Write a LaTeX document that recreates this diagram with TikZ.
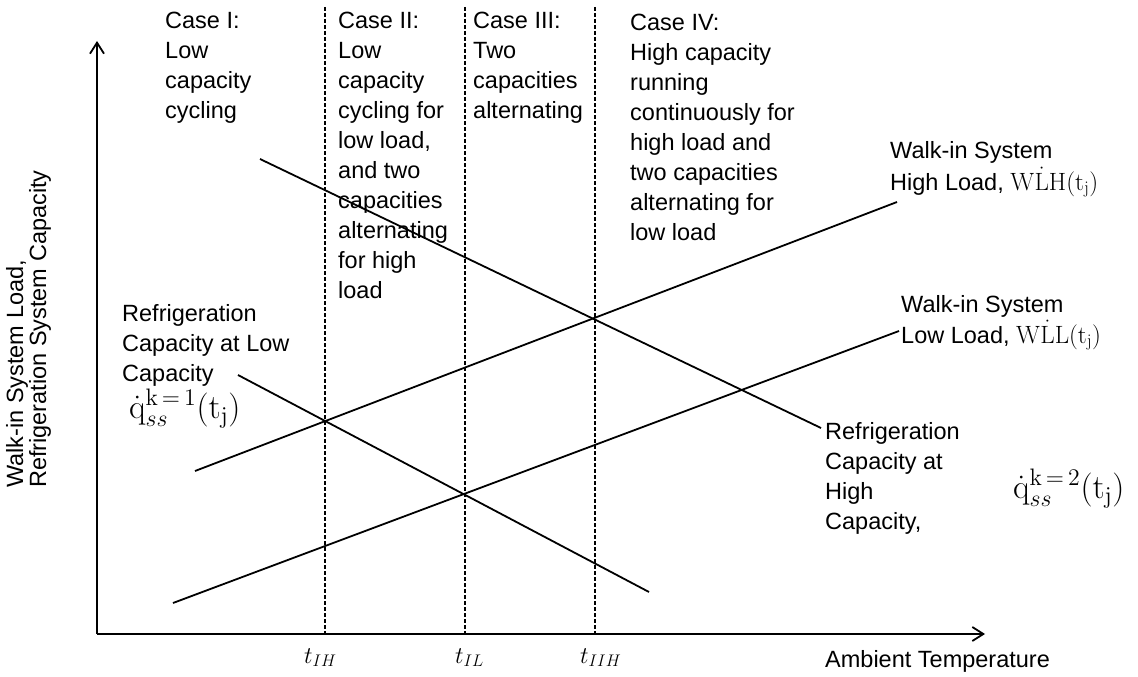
\documentclass[tikz,border=0pt]{standalone}
\usepackage{fix-cm}
\usepackage[no-math]{fontspec}
\setmainfont{Liberation Sans}
\usetikzlibrary{arrows.meta}
\newcommand{\bigmath}[1]{{\fontsize{25}{30}\selectfont $#1$}}
\newcommand{\qdotss}[1]{\scalebox{1.48}{${\dot{\mathrm{q}}_{ss}}^{\mathrm{k\,{=}\,#1}}(\mathrm{t_j})$}}
\begin{document}
\begin{tikzpicture}[x=1pt,y=-1pt,
  txt/.style={font=\fontsize{23.5}{30}\selectfont, align=left, anchor=base west, inner sep=0pt},
  mth/.style={font=\fontsize{24}{30}\selectfont, anchor=base west, inner sep=0pt},
  qmth/.style={font=\fontsize{23}{30}\selectfont, anchor=base west, inner sep=0pt},
  axisline/.style={line width=2pt, -{Straight Barb[length=11pt,width=14pt,line width=1.8pt]}},
  curve/.style={line width=1.8pt},
  guide/.style={line width=1.3pt, dash pattern=on 4pt off 2pt}]
\useasboundingbox (0,0) rectangle (1138,677);
% axes
\coordinate (O) at (97,634);
\coordinate (Ytip) at (97,41);
\coordinate (Xtip) at (985,634);
\draw[axisline] (O) -- (Ytip);
\draw[axisline] (O) -- (Xtip);
% guides
\coordinate (g1t) at (325,7);   \coordinate (g1b) at (325,634);
\coordinate (g2t) at (465,7);   \coordinate (g2b) at (465,634);
\coordinate (g3t) at (595,7);   \coordinate (g3b) at (595,634);
\draw[guide] (g1t) -- (g1b);
\draw[guide] (g2t) -- (g2b);
\draw[guide] (g3t) -- (g3b);
% curves
\coordinate (hcA) at (260,159); \coordinate (hcB) at (821,428);
\coordinate (lcA) at (238,375); \coordinate (lcB) at (649,592);
\coordinate (hlA) at (195,471); \coordinate (hlB) at (897,202);
\coordinate (llA) at (173,603); \coordinate (llB) at (899,331);
\draw[curve] (hcA) -- (hcB);
\draw[curve] (lcA) -- (lcB);
\draw[curve] (hlA) -- (hlB);
\draw[curve] (llA) -- (llB);
% case texts (anchor = baseline of last line)
\node[txt] (c1) at (165,118) {Case I:\\Low\\capacity\\cycling};
\node[txt] (c2) at (338,298) {Case II:\\Low\\capacity\\cycling for\\low load,\\and two\\capacities\\alternating\\for high\\load};
\node[txt] (c3) at (473,118) {Case III:\\Two\\capacities\\alternating};
\node[txt] (c4) at (630,240) {Case IV:\\High capacity\\running\\continuously for\\high load and\\two capacities\\alternating for\\low load};
% curve labels
\node[txt] (wh) at (890,190) {Walk-in System\\[2pt]High Load, \bigmath{\mathrm{W\dot{L}H}(\mathrm{t_j})}};
\node[txt] (wl) at (901,343) {Walk-in System\\[1pt]Low Load, \bigmath{\mathrm{W\dot{L}L}(\mathrm{t_j})}};
\node[txt] (rl) at (122,381) {Refrigeration\\Capacity at Low\\Capacity};
\node[qmth] (q1) at (129,418) {\qdotss{1}};
\node[txt] (rh) at (825,529) {Refrigeration\\Capacity at\\High\\Capacity,};
\node[qmth] (q2) at (1013,498) {\qdotss{2}};
% axis labels
\node[txt] (xl) at (825,667) {Ambient Temperature};
\node[txt, font=\fontsize{23.5}{18.5}\selectfont, rotate=90] (yl) at (46,488) {Walk-in System Load,\\Refrigeration System Capacity};
\node[mth] (t1) at (304,663) {$t_{IH}$};
\node[mth] (t2) at (455,663) {$t_{IL}$};
\node[mth] (t3) at (580,663) {$t_{IIH}$};
\end{tikzpicture}
\end{document}
